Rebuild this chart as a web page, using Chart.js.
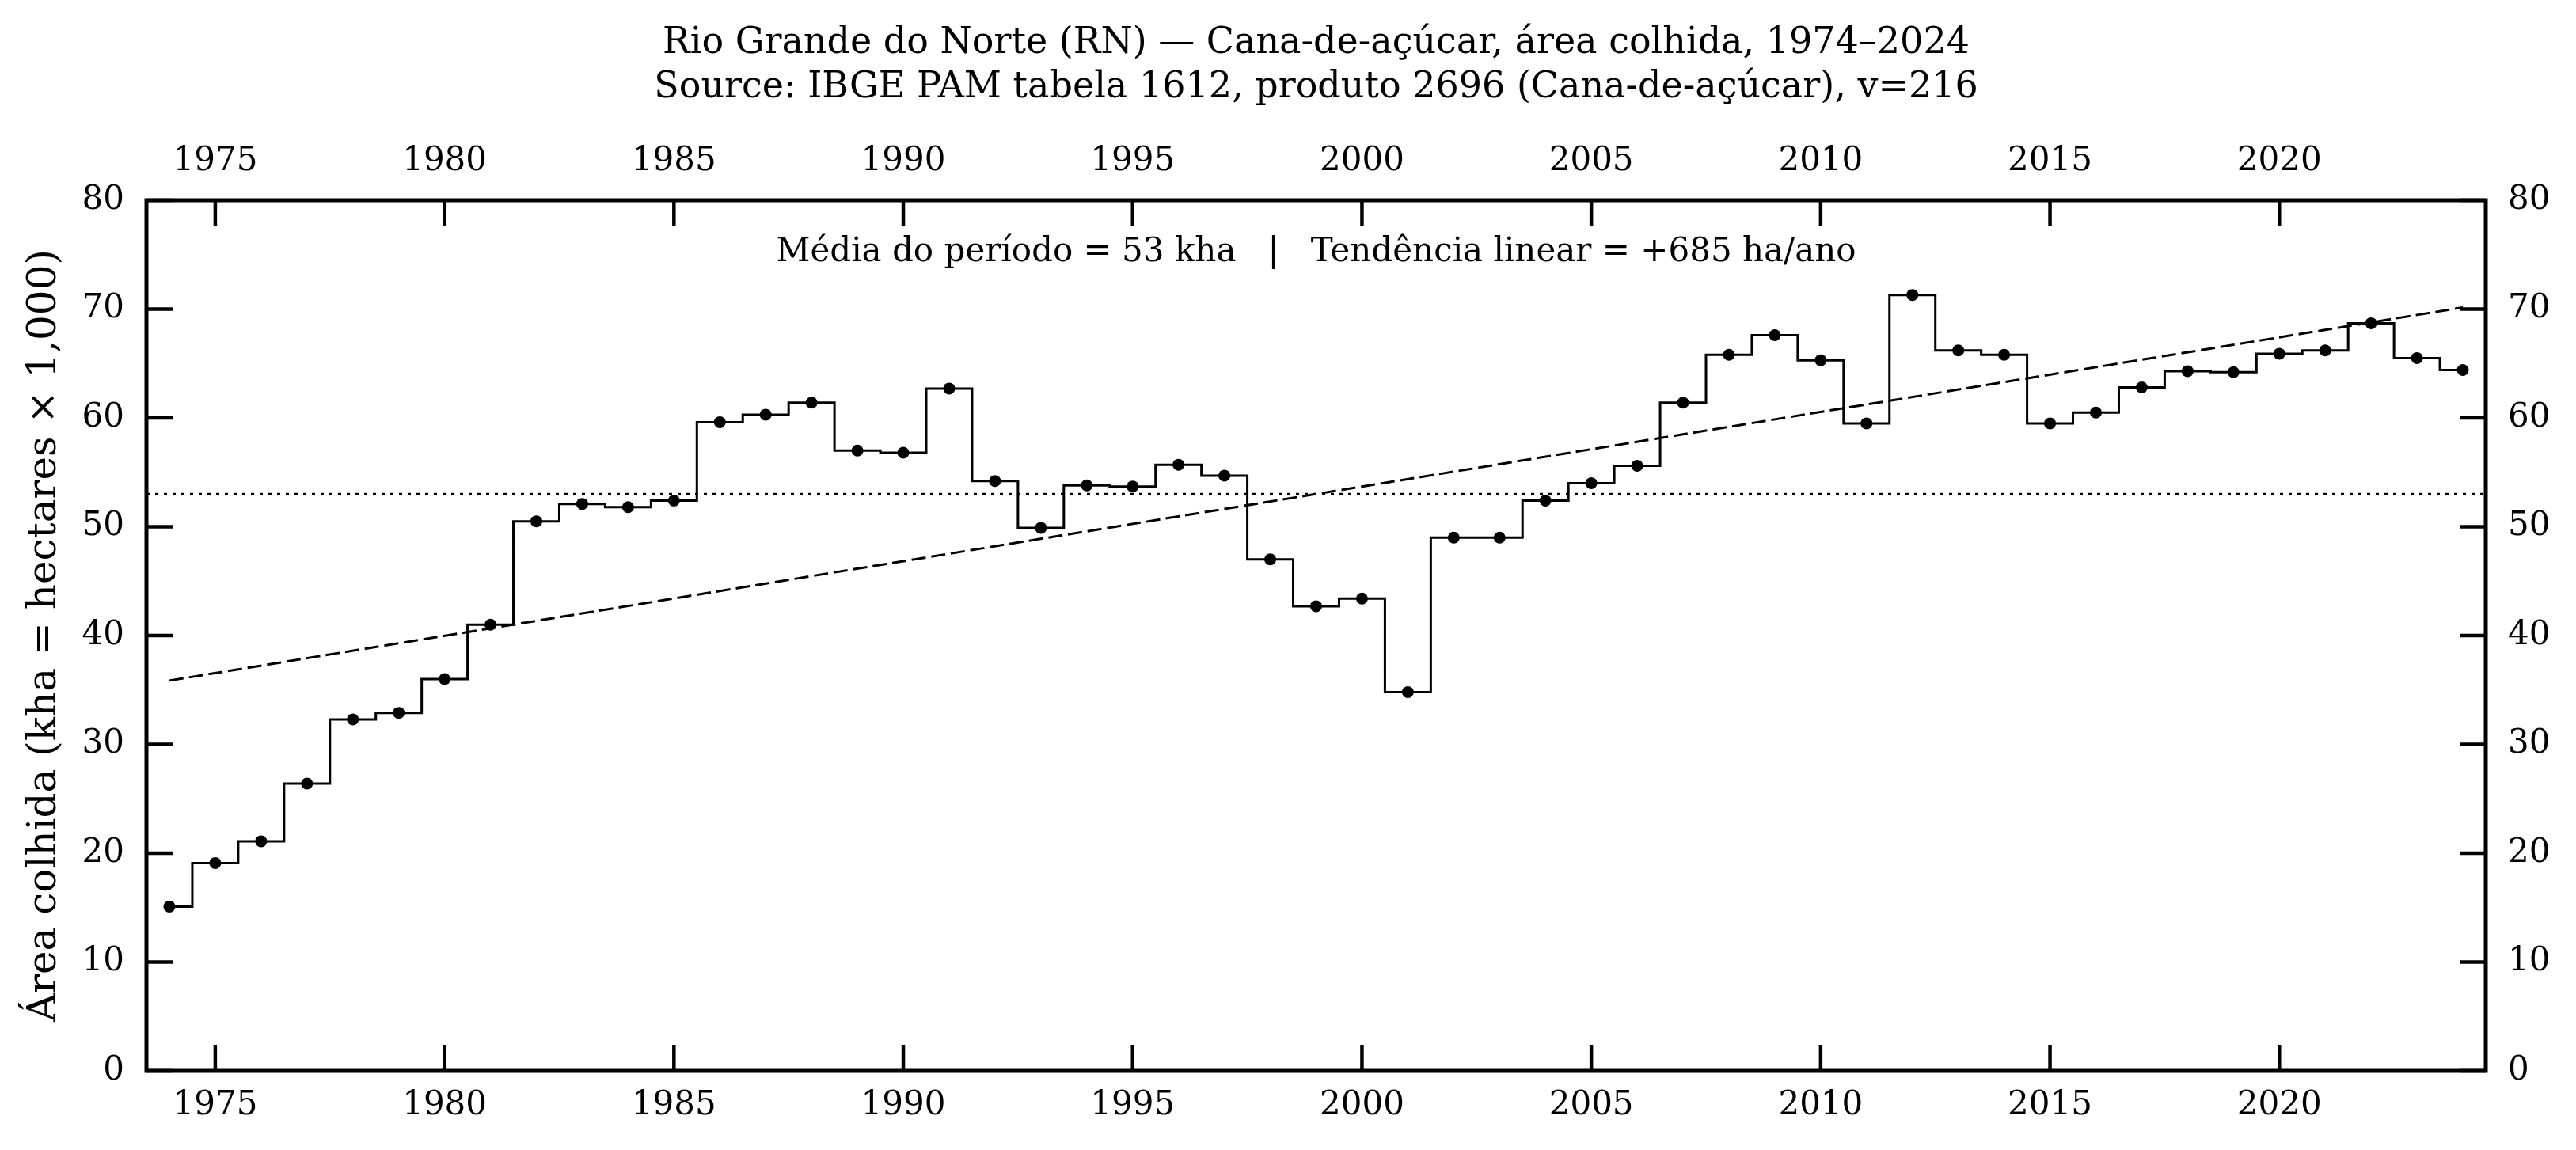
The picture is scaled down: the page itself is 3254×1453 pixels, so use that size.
<!DOCTYPE html>
<html>
<head>
<meta charset="utf-8">
<title>Rio Grande do Norte (RN) — Cana-de-açúcar, área colhida</title>
<script src="https://cdn.jsdelivr.net/npm/chart.js@4.4.1/dist/chart.umd.min.js"></script>
<style>
  html, body { margin: 0; padding: 0; background: #fff; }
  #grafico { display: block; }
</style>
</head>
<body>
<canvas id="grafico" width="3254" height="1453"></canvas>
<script>
// dados (kha)
const anos = [1974, 1975, 1976, 1977, 1978, 1979, 1980, 1981, 1982, 1983,
  1984, 1985, 1986, 1987, 1988, 1989, 1990, 1991, 1992, 1993,
  1994, 1995, 1996, 1997, 1998, 1999, 2000, 2001, 2002, 2003,
  2004, 2005, 2006, 2007, 2008, 2009, 2010, 2011, 2012, 2013,
  2014, 2015, 2016, 2017, 2018, 2019, 2020, 2021, 2022, 2023, 2024];
const areaKha = [15.1, 19.1, 21.1, 26.4, 32.3, 32.9, 36.0, 41.0, 50.5, 52.1,
  51.8, 52.4, 59.6, 60.3, 61.4, 57.0, 56.8, 62.7, 54.2, 49.9,
  53.8, 53.7, 55.7, 54.7, 47.0, 42.7, 43.4, 34.8, 49.0, 49.0,
  52.4, 54.0, 55.6, 61.4, 65.8, 67.6, 65.3, 59.5, 71.3, 66.2,
  65.8, 59.5, 60.5, 62.8, 64.3, 64.2, 65.9, 66.2, 68.7, 65.5, 64.4];
const ticksX = [1975, 1980, 1985, 1990, 1995, 2000, 2005, 2010, 2015, 2020];
const ticksY = [0, 10, 20, 30, 40, 50, 60, 70, 80];

const titulo = [
  'Rio Grande do Norte (RN) — Cana-de-açúcar, área colhida, 1974–2024',
  'Source: IBGE PAM tabela 1612, produto 2696 (Cana-de-açúcar), v=216'
];
const tituloY = 'Área colhida (kha = hectares × 1,000)';
const nota = 'Média do período = 53 kha   |   Tendência linear = +685 ha/ano';

const xMin = 1973.5, xMax = 2024.5;
const yMin = 0, yMax = 80;

// média e tendência linear (mínimos quadrados) a partir dos dados
const n = anos.length;
const media = areaKha.reduce((a, b) => a + b, 0) / n;
const anoMedio = anos.reduce((a, b) => a + b, 0) / n;
let sxy = 0, sxx = 0;
anos.forEach((ano, i) => {
  sxy += (ano - anoMedio) * (areaKha[i] - media);
  sxx += (ano - anoMedio) * (ano - anoMedio);
});
const inclinacao = sxy / sxx;
const tendencia = [anos[0], anos[n - 1]].map(ano => ({ x: ano, y: media + inclinacao * (ano - anoMedio) }));

const fonte = "'DejaVu Serif', serif";
const tamFonte = 42;
const tamTick = 33;

// moldura, ticks para dentro e textos
const moldura = {
  id: 'moldura',
  afterDraw(chart) {
    const { ctx, chartArea: a, scales } = chart;
    ctx.save();
    ctx.strokeStyle = '#000';
    ctx.lineWidth = 4.5;
    ctx.beginPath();
    ticksX.forEach(v => {
      const px = scales.x.getPixelForValue(v);
      ctx.moveTo(px, a.bottom); ctx.lineTo(px, a.bottom - tamTick);
      ctx.moveTo(px, a.top); ctx.lineTo(px, a.top + tamTick);
    });
    ticksY.forEach(v => {
      const py = scales.y.getPixelForValue(v);
      ctx.moveTo(a.left, py); ctx.lineTo(a.left + tamTick, py);
      ctx.moveTo(a.right, py); ctx.lineTo(a.right - tamTick, py);
    });
    ctx.stroke();
    ctx.lineWidth = 5;
    ctx.strokeRect(a.left, a.top, a.right - a.left, a.bottom - a.top);

    const cx = (a.left + a.right) / 2;
    ctx.fillStyle = '#000';
    ctx.textAlign = 'center';
    ctx.textBaseline = 'alphabetic';
    ctx.font = '46px ' + fonte;
    ctx.fillText(titulo[0], cx, 67);
    ctx.fillText(titulo[1], cx, 123);
    ctx.font = '42px ' + fonte;
    ctx.textBaseline = 'middle';
    ctx.fillText(nota, cx, a.top + 66);
    ctx.restore();
  }
};

const eixoX = (posicao, altura, pad) => ({
  type: 'linear',
  axis: 'x',
  position: posicao,
  min: xMin,
  max: xMax,
  afterBuildTicks: s => { s.ticks = ticksX.map(v => ({ value: v })); },
  afterFit: s => { s.height = altura; },
  grid: { display: false, drawTicks: false },
  border: { display: false },
  ticks: {
    color: '#000',
    font: { family: fonte, size: tamFonte },
    padding: pad,
    maxRotation: 0,
    autoSkip: false,
    callback: v => String(v)
  }
});

const eixoY = (posicao, largura, comTitulo) => ({
  type: 'linear',
  axis: 'y',
  position: posicao,
  min: yMin,
  max: yMax,
  afterBuildTicks: s => { s.ticks = ticksY.map(v => ({ value: v })); },
  afterFit: s => { s.width = largura; },
  grid: { display: false, drawTicks: false },
  border: { display: false },
  title: {
    display: comTitulo,
    text: tituloY,
    color: '#000',
    font: { family: fonte, size: 50 },
    padding: { top: 27, bottom: 0 }
  },
  ticks: {
    color: '#000',
    font: { family: fonte, size: tamFonte },
    padding: 28,
    callback: v => String(v)
  }
});

new Chart(document.getElementById('grafico'), {
  type: 'line',
  data: {
    datasets: [
      {
        label: 'Área colhida',
        data: anos.map((ano, i) => ({ x: ano, y: areaKha[i] })),
        stepped: 'middle',
        borderColor: '#000',
        borderWidth: 3,
        pointRadius: 7.5,
        pointBackgroundColor: '#000',
        pointBorderWidth: 0,
        xAxisID: 'x',
        yAxisID: 'y'
      },
      {
        label: 'Média',
        data: [{ x: xMin, y: media }, { x: xMax, y: media }],
        borderColor: '#000',
        borderWidth: 3,
        borderDash: [4, 7],
        pointRadius: 0,
        xAxisID: 'x',
        yAxisID: 'y'
      },
      {
        label: 'Tendência',
        data: tendencia,
        borderColor: '#000',
        borderWidth: 3,
        borderDash: [18, 7],
        pointRadius: 0,
        xAxisID: 'x',
        yAxisID: 'y'
      }
    ]
  },
  options: {
    responsive: false,
    animation: false,
    devicePixelRatio: 1,
    events: [],
    layout: { padding: 0 },
    plugins: {
      legend: { display: false },
      title: { display: false },
      tooltip: { enabled: false }
    },
    scales: {
      x: eixoX('bottom', 100, 19),
      xTop: eixoX('top', 253, 24),
      y: eixoY('left', 185, true),
      yRight: eixoY('right', 114, false)
    }
  },
  plugins: [moldura]
});
</script>
</body>
</html>
